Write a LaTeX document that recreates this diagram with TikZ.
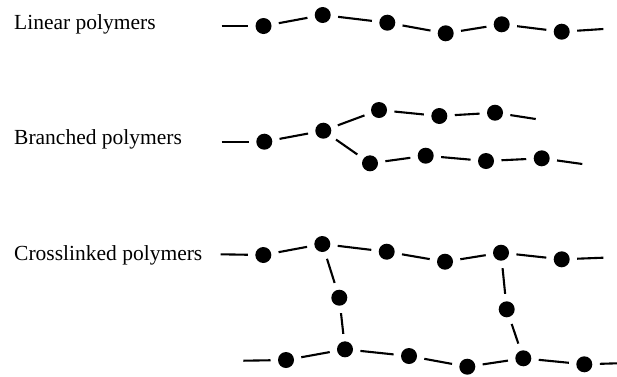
\documentclass[tikz,border=0pt]{standalone}
\usepackage{fontspec}
\setmainfont{Liberation Serif}
\begin{document}
\begin{tikzpicture}[x=1pt,y=-1pt,
  unit/.style={circle,fill=black,inner sep=0pt,outer sep=0pt,minimum size=16pt},
  bond/.style={line width=2.1pt,shorten >=7.5pt,shorten <=7.5pt},
  tailbond/.style={line width=2.1pt,shorten >=7.5pt},
  headbond/.style={line width=2.1pt,shorten <=7.5pt},
  label/.style={anchor=base west,inner sep=0pt,font=\fontsize{21.5}{24}\selectfont}]
\useasboundingbox (0,0) rectangle (617,376);

% labels
\node[label] (tlin) at (14,29.5) {Linear polymers};
\node[label] (tbra) at (14,144) {Branched polymers};
\node[label] (tcro) at (14,260.5) {Crosslinked polymers};

% linear chain
\coordinate (l0) at (221.7,26);
\node[unit] (l1) at (263.5,26) {};
\node[unit] (l2) at (322.7,15) {};
\node[unit] (l3) at (387.3,22.7) {};
\node[unit] (l4) at (445.7,33.3) {};
\node[unit] (l5) at (501.7,24.3) {};
\node[unit] (l6) at (561.7,31.7) {};
\coordinate (l7) at (603.3,29);
\draw[tailbond] (l0) -- (l1);
\draw[bond] (l1) -- (l2);
\draw[bond] (l2) -- (l3);
\draw[bond] (l3) -- (l4);
\draw[bond] (l4) -- (l5);
\draw[bond] (l5) -- (l6);
\draw[headbond] (l6) -- (l7);

% branched chain
\coordinate (b0) at (221.7,141.7);
\node[unit] (b1) at (264.3,141.7) {};
\node[unit] (b2) at (323.3,130.7) {};
\node[unit] (b3) at (379,110) {};
\node[unit] (b4) at (439.3,116) {};
\node[unit] (b5) at (495,112.7) {};
\coordinate (bu) at (535.7,119);
\node[unit] (b6) at (370,163.3) {};
\node[unit] (b7) at (425.7,155.7) {};
\node[unit] (b8) at (486,161) {};
\node[unit] (b9) at (541.7,158.3) {};
\coordinate (bl) at (582.3,164);
\draw[tailbond] (b0) -- (b1);
\draw[bond] (b1) -- (b2);
\draw[bond] (b2) -- (b3);
\draw[bond] (b3) -- (b4);
\draw[bond] (b4) -- (b5);
\draw[headbond] (b5) -- (bu);
\draw[bond] (b2) -- (b6);
\draw[bond] (b6) -- (b7);
\draw[bond] (b7) -- (b8);
\draw[bond] (b8) -- (b9);
\draw[headbond] (b9) -- (bl);

% crosslinked chains: upper
\coordinate (c0) at (220.7,254.3);
\node[unit] (c1) at (263.3,255) {};
\node[unit] (c2) at (322.3,244) {};
\node[unit] (c3) at (386.7,251.7) {};
\node[unit] (c4) at (445,261.7) {};
\node[unit] (c5) at (501,252.7) {};
\node[unit] (c6) at (561.7,259.3) {};
\coordinate (c7) at (603.3,257.7);
\draw[tailbond] (c0) -- (c1);
\draw[bond] (c1) -- (c2);
\draw[bond] (c2) -- (c3);
\draw[bond] (c3) -- (c4);
\draw[bond] (c4) -- (c5);
\draw[bond] (c5) -- (c6);
\draw[headbond] (c6) -- (c7);

% crosslinked chains: lower
\coordinate (d0) at (243.3,360.7);
\node[unit] (d1) at (286,360) {};
\node[unit] (d2) at (345,349.3) {};
\node[unit] (d3) at (409,356) {};
\node[unit] (d4) at (467.3,366.7) {};
\node[unit] (d5) at (523.3,358.3) {};
\node[unit] (d6) at (584.3,364.3) {};
\coordinate (d7) at (617,363.3);
\draw[tailbond] (d0) -- (d1);
\draw[bond] (d1) -- (d2);
\draw[bond] (d2) -- (d3);
\draw[bond] (d3) -- (d4);
\draw[bond] (d4) -- (d5);
\draw[bond] (d5) -- (d6);
\draw[headbond] (d6) -- (d7);

% crosslinks
\node[unit] (m1) at (339.3,297.7) {};
\node[unit] (m2) at (506.7,309.3) {};
\draw[bond] (c2) -- (m1);
\draw[bond] (m1) -- (d2);
\draw[bond] (c5) -- (m2);
\draw[bond] (m2) -- (d5);
\end{tikzpicture}
\end{document}
